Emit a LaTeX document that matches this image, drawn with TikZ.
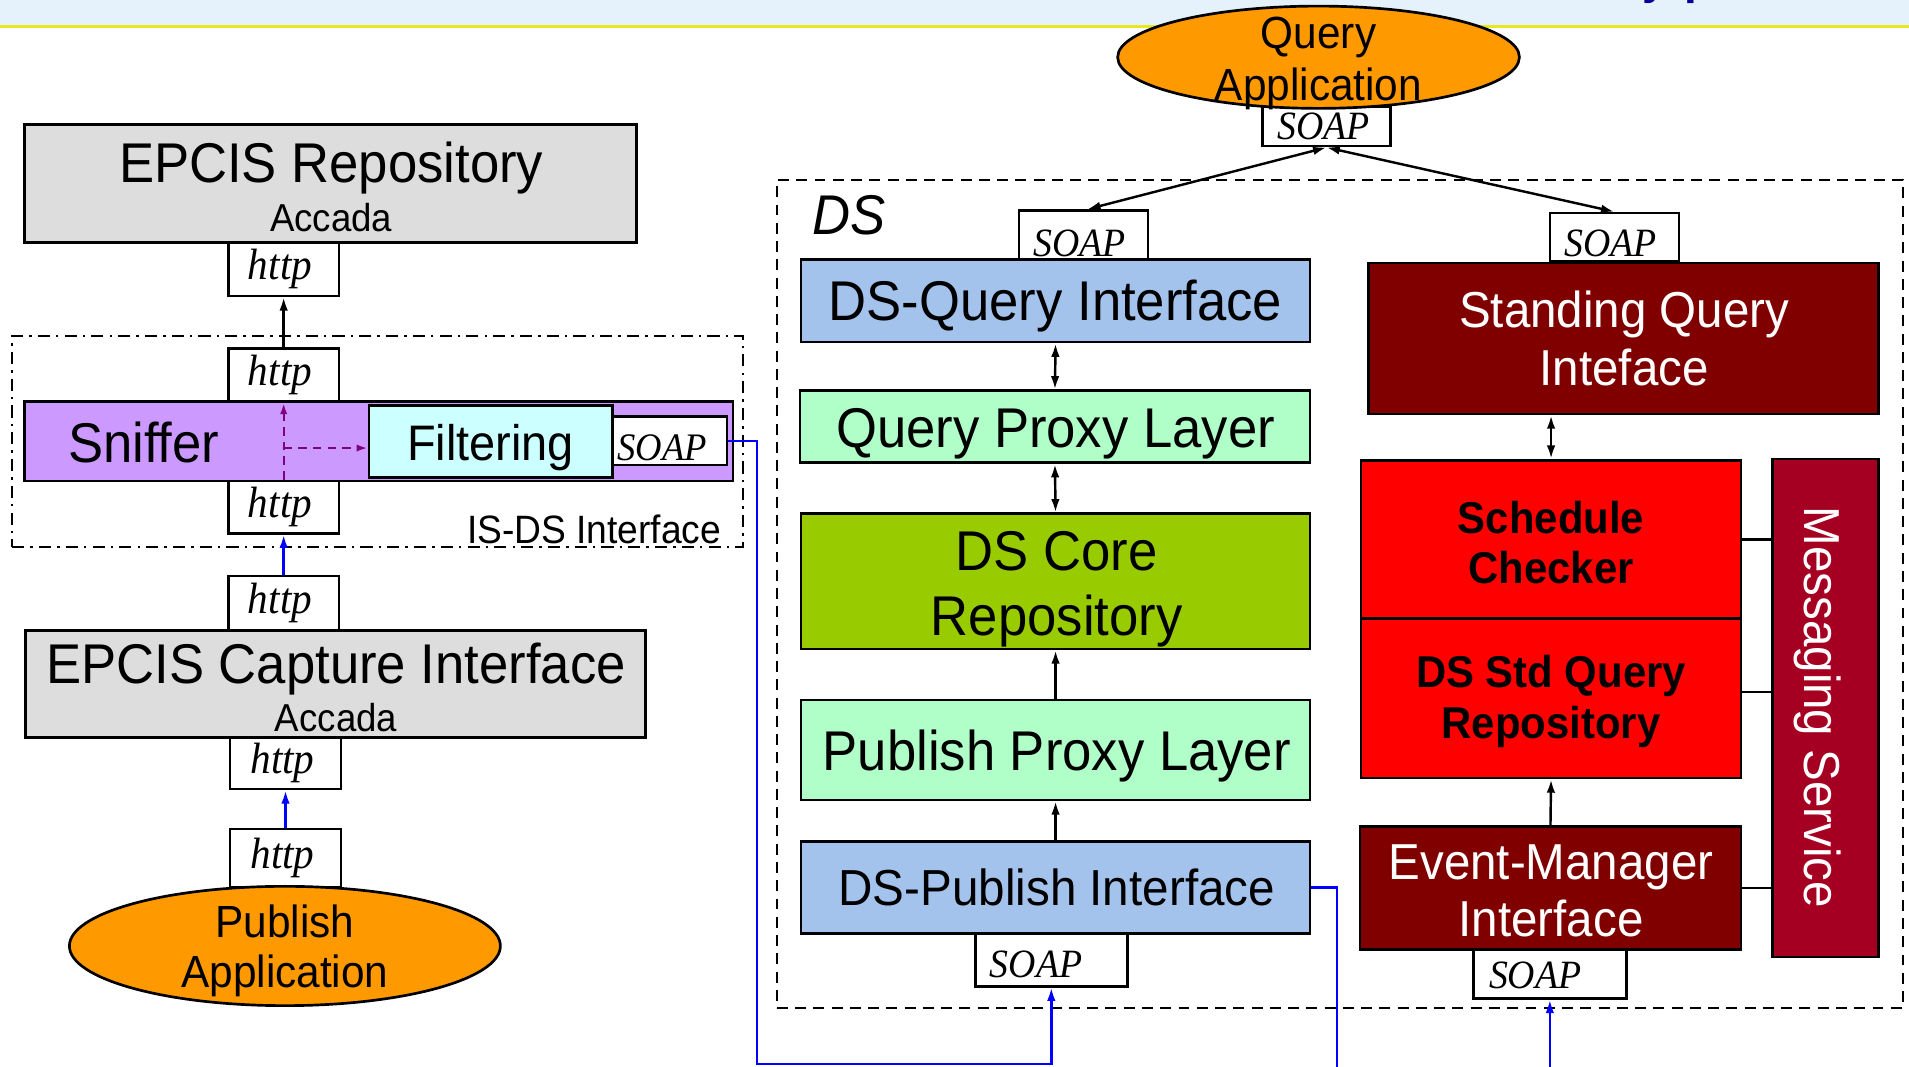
\documentclass[tikz,border=0pt]{standalone}
\usepackage{fontspec}
\setmainfont{Liberation Sans}[FakeStretch=0.94]
\newfontfamily\tms{Liberation Serif}[FakeStretch=0.94]
\usetikzlibrary{arrows.meta,shapes.geometric,calc}

\definecolor{bandblue}{HTML}{E5F2FB}
\definecolor{bandyellow}{HTML}{E8E820}
\definecolor{titleblue}{HTML}{000099}
\definecolor{boxgray}{HTML}{DDDDDD}
\definecolor{lav}{HTML}{CC99FF}
\definecolor{cyanl}{HTML}{CCFFFF}
\definecolor{ifblue}{HTML}{A4C3EC}
\definecolor{mint}{HTML}{B0FFC8}
\definecolor{coregreen}{HTML}{99CC00}
\definecolor{darkred}{HTML}{800000}
\definecolor{brightred}{HTML}{FF0000}
\definecolor{crimson}{HTML}{A50021}
\definecolor{apporange}{HTML}{FF9900}
\definecolor{dpurple}{HTML}{800080}
\definecolor{linkblue}{HTML}{0000FF}

\newcommand\szBig{\fontsize{46pt}{52pt}\selectfont}
\newcommand\szMid{\fontsize{41.5pt}{48pt}\selectfont}
\newcommand\szApp{\fontsize{37pt}{42pt}\selectfont}
\newcommand\szSmall{\fontsize{32pt}{38pt}\selectfont}
\newcommand\szBold{\bfseries\fontsize{36.6pt}{42pt}\selectfont}

\begin{document}
\begin{tikzpicture}[x=1pt,y=-1pt,
  box/.style={draw=black, line width=2.2pt, inner sep=0pt},
  port/.style={box, fill=white},
  lbl/.style={inner sep=0pt, anchor=base},
  ptxt/.style={inner sep=0pt, font=\tms\itshape\fontsize{33pt}{38pt}\selectfont},
  htxt/.style={inner sep=0pt, font=\tms\itshape\fontsize{36pt}{40pt}\selectfont},
  conn/.style={line width=2pt},
  arr/.style={conn, -{Latex[length=11pt,width=7pt]}},
  darr/.style={conn, {Latex[length=11pt,width=7pt]}-{Latex[length=11pt,width=7pt]}},
  pdash/.style={dpurple, line width=1.8pt, dash pattern=on 7pt off 5pt},
  app/.style={ellipse, draw=black, line width=2.2pt, fill=apporange, inner sep=0pt}
]
\useasboundingbox (0,0) rectangle (1568,876);

% header band with the lower edge of its title
\fill[bandblue] (0,0) rectangle (1568,20.5);
\draw[bandyellow, line width=2.4pt] (0,21.5) -- (1568,21.5);
\begin{scope}
  \clip (0,0) rectangle (1568,20);
  \node[lbl, text=titleblue, font=\bfseries\fontsize{40pt}{40pt}\selectfont] (ttl) at (1378,-5) {y\hspace{14pt}p};
\end{scope}

% ---------- IS side ----------
\node[box, fill=boxgray, minimum width=503pt, minimum height=97pt] (repo) at (271.5,150.5) {};
\node[lbl, font=\szBig] (repoT) at (272,149.6) {EPCIS Repository};
\node[lbl, font=\szSmall] (repoS) at (272,190) {Accada};
\node[port, minimum width=91pt, minimum height=44pt] (h1) at (233,221) {};
\node[htxt] (h1t) at (230,221) {http};

\node[draw=black, line width=1.8pt, dash pattern=on 10pt off 5pt on 2pt off 5pt,
      minimum width=600pt, minimum height=173pt, inner sep=0pt] (isds) at (310,362.5) {};
\node[lbl, font=\fontsize{32.5pt}{36pt}\selectfont] (isdsT) at (488,446) {IS-DS Interface};

\node[box, fill=lav, minimum width=582pt, minimum height=65pt] (sniff) at (311,362.5) {};
\node[lbl, font=\szBig] (sniffT) at (118,380) {Sniffer};
\node[box, fill=cyanl, minimum width=200pt, minimum height=59pt] (filt) at (403,362.5) {};
\node[lbl, font=\fontsize{41pt}{46pt}\selectfont] (filtT) at (403,378) {Filtering};
\node[port, minimum width=94pt, minimum height=40pt] (ssoap) at (550,362) {};
\node[ptxt, font=\tms\itshape\fontsize{32pt}{36pt}\selectfont] (ssoapT) at (544,368) {SOAP};

\node[port, minimum width=91pt, minimum height=44pt] (h2) at (233,308) {};
\node[htxt] (h2t) at (230,308) {http};
\node[port, minimum width=91pt, minimum height=43pt] (h3) at (233,416.5) {};
\node[htxt] (h3t) at (230,416.5) {http};

\draw[pdash, -{Latex[length=9pt,width=6pt]}] (h3.north) -- (h2.south);
\coordinate (pj) at (233,368);
\draw[pdash, -{Latex[length=9pt,width=6pt]}] (pj) -- (pj -| filt.west);

\node[port, minimum width=91pt, minimum height=45pt] (h4) at (233,495.5) {};
\node[htxt] (h4t) at (230,495.5) {http};
\node[box, fill=boxgray, minimum width=509pt, minimum height=88pt] (cap) at (275.5,562) {};
\node[lbl, font=\szBig] (capT) at (276,561) {EPCIS Capture Interface};
\node[lbl, font=\szSmall] (capS) at (276,601) {Accada};
\node[port, minimum width=91pt, minimum height=42pt] (h5) at (234.5,627) {};
\node[htxt] (h5t) at (232,627) {http};
\node[port, minimum width=91pt, minimum height=48pt] (h6) at (234.5,705) {};
\node[htxt] (h6t) at (232,705) {http};
\node[app, minimum width=354pt, minimum height=98pt] (papp) at (234,777) {};
\node[lbl, font=\szApp] (pappA) at (234,770) {Publish};
\node[lbl, font=\szApp] (pappB) at (234,811.5) {Application};

\draw[arr] (h2.north) -- (h1.south);
\draw[arr, linkblue] (h4.north) -- (h3.south);
\draw[arr, linkblue] (h6.north) -- (h5.south);

% ---------- DS side ----------
\node[draw=black, line width=2pt, dash pattern=on 9pt off 6pt,
      minimum width=925pt, minimum height=680pt, inner sep=0pt] (ds) at (1100.5,488) {};
\node[lbl, font=\itshape\szBig] (dsT) at (697,193) {DS};

\node[port, minimum width=105pt, minimum height=32pt] (qsoap) at (1089.5,104) {};
\node[app, minimum width=330pt, minimum height=84pt] (qapp) at (1083,47) {};
\node[lbl, font=\szApp] (qappA) at (1083,39.5) {Query};
\node[lbl, font=\szApp] (qappB) at (1083,82.5) {Application};
\node[ptxt] (qsoapT) at (1087,104) {SOAP};

% query / publish column
\node[port, minimum width=106pt, minimum height=40pt] (dsqsoap) at (890,193) {};
\node[ptxt] (dsqsoapT) at (887,200) {SOAP};
\node[box, fill=ifblue, minimum width=418pt, minimum height=68pt] (dsq) at (867,247) {};
\node[lbl, font=\szBig] (dsqT) at (867,263.6) {DS-Query Interface};
\node[box, fill=mint, minimum width=419pt, minimum height=59pt] (qpl) at (866.5,350.5) {};
\node[lbl, font=\szBig] (qplT) at (867,367.6) {Query Proxy Layer};
\node[box, fill=coregreen, minimum width=418pt, minimum height=111pt] (core) at (867,477.5) {};
\node[lbl, font=\szBig] (coreA) at (868,468.6) {DS Core};
\node[lbl, font=\szBig] (coreB) at (868,521.6) {Repository};
\node[box, fill=mint, minimum width=418pt, minimum height=82pt] (ppl) at (867,616) {};
\node[lbl, font=\szBig] (pplT) at (868,632.6) {Publish Proxy Layer};
\node[box, fill=ifblue, minimum width=418pt, minimum height=76pt] (dpi) at (867,729) {};
\node[lbl, font=\fontsize{41.6pt}{48pt}\selectfont] (dpiT) at (868,744) {DS-Publish Interface};
\node[port, minimum width=125pt, minimum height=43pt] (psoap) at (863.5,788.5) {};
\node[ptxt] (psoapT) at (851,792) {SOAP};

\draw[darr] (dsq.south) -- (qpl.north);
\draw[darr] (qpl.south) -- (core.north);
\draw[arr] (ppl.north) -- (core.south);
\draw[arr] (dpi.north) -- (ppl.south);

% standing query column
\node[port, minimum width=106pt, minimum height=40pt] (sqsoap) at (1326,195) {};
\node[ptxt] (sqsoapT) at (1323,200) {SOAP};
\node[box, fill=darkred, minimum width=419pt, minimum height=124pt] (sq) at (1333.5,278) {};
\node[lbl, font=\szMid, text=white] (sqA) at (1334,269) {Standing Query};
\node[lbl, font=\szMid, text=white] (sqB) at (1334,317) {Inteface};
\node[box, fill=brightred, minimum width=312pt, minimum height=130pt] (sc) at (1274,443) {};
\node[lbl, font=\szBold] (scA) at (1274,438.4) {Schedule};
\node[lbl, font=\szBold] (scB) at (1274,479.4) {Checker};
\node[box, fill=brightred, minimum width=312pt, minimum height=131pt] (sr) at (1274,573.5) {};
\node[lbl, font=\szBold] (srA) at (1274,564.4) {DS Std Query};
\node[lbl, font=\szBold] (srB) at (1274,606.4) {Repository};
\node[box, fill=darkred, minimum width=313pt, minimum height=101pt] (em) at (1273.5,729.5) {};
\node[lbl, font=\szMid, text=white] (emA) at (1274,722) {Event-Manager};
\node[lbl, font=\szMid, text=white] (emB) at (1274,769) {Interface};
\node[port, minimum width=126pt, minimum height=40pt] (esoap) at (1273,800) {};
\node[ptxt] (esoapT) at (1261,801) {SOAP};
\node[box, fill=crimson, minimum width=87pt, minimum height=409pt] (ms) at (1499.5,581.5) {};
\node[lbl, font=\szMid, text=white, rotate=-90] (msT) at (1482,581) {Messaging Service};

\draw[darr] (sc.north) -- (sc.north |- sq.south);
\draw[arr] (em.north) -- (sr.south);
\draw[conn] (sc.east) -- (sc.east -| ms.west);
\draw[conn] ([yshift=5pt]sr.east) -- ([yshift=5pt]sr.east -| ms.west);
\draw[conn] (em.east) -- (em.east -| ms.west);

% query application links
\draw[darr] (qsoap.south) -- ([xshift=3pt]dsqsoap.north);
\draw[darr] (qsoap.south) -- (sqsoap.north);

% publish links
\coordinate (bl) at (622,874);
\draw[arr, linkblue] (ssoap.east) -| (bl) -| (psoap.south);
\coordinate (br) at (1098,876);
\draw[conn, linkblue] (dpi.east) -| (br);
\coordinate (be) at (1273,876);
\draw[arr, linkblue] (be) -- (esoap.south);
\end{tikzpicture}
\end{document}
